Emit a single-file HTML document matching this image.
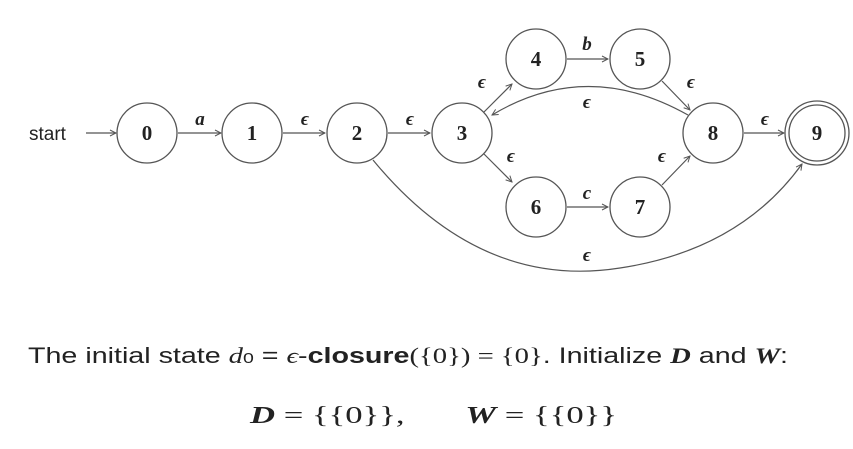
<!DOCTYPE html>
<html><head><meta charset="utf-8"><style>
html,body{margin:0;padding:0;background:#fff;width:853px;height:449px;overflow:hidden}
svg{display:block}
.n{fill:#fff;stroke:#555;stroke-width:1.3}
.e{fill:none;stroke:#555;stroke-width:1.2}
.l{font-family:"Liberation Serif",serif;font-weight:bold;font-size:21px;text-anchor:middle;fill:#222}
.t{font-family:"Liberation Serif",serif;font-weight:bold;font-style:italic;font-size:19px;text-anchor:middle;fill:#222}
</style></head><body>
<svg width="853" height="449" viewBox="0 0 853 449">
<defs><marker id="a" markerWidth="8" markerHeight="8" refX="7" refY="4" orient="auto" markerUnits="userSpaceOnUse"><path d="M1,1 L7,4 L1,7" fill="none" stroke="#555" stroke-width="1"/></marker></defs>
<text x="29" y="140" font-family="Liberation Sans,sans-serif" font-size="19" fill="#222">start</text>
<line class="e" x1="86" y1="133" x2="116" y2="133" marker-end="url(#a)"/>
<line class="e" x1="178" y1="133" x2="221" y2="133" marker-end="url(#a)"/>
<line class="e" x1="283" y1="133" x2="325" y2="133" marker-end="url(#a)"/>
<line class="e" x1="388" y1="133" x2="430" y2="133" marker-end="url(#a)"/>
<line class="e" x1="484" y1="112" x2="512" y2="84" marker-end="url(#a)"/>
<line class="e" x1="484" y1="154" x2="512" y2="182" marker-end="url(#a)"/>
<line class="e" x1="567" y1="59" x2="608" y2="59" marker-end="url(#a)"/>
<line class="e" x1="567" y1="207" x2="608" y2="207" marker-end="url(#a)"/>
<line class="e" x1="662" y1="81" x2="690" y2="110" marker-end="url(#a)"/>
<line class="e" x1="662" y1="185" x2="690" y2="156" marker-end="url(#a)"/>
<line class="e" x1="744" y1="133" x2="784" y2="133" marker-end="url(#a)"/>
<path class="e" d="M688,115 Q587,58 492,115" marker-end="url(#a)"/>
<path class="e" d="M373,160 Q480,290 620,268 Q740,250 802,164" marker-end="url(#a)"/>
<circle class="n" cx="147" cy="133" r="30"/>
<circle class="n" cx="252" cy="133" r="30"/>
<circle class="n" cx="357" cy="133" r="30"/>
<circle class="n" cx="462" cy="133" r="30"/>
<circle class="n" cx="536" cy="59" r="30"/>
<circle class="n" cx="640" cy="59" r="30"/>
<circle class="n" cx="536" cy="207" r="30"/>
<circle class="n" cx="640" cy="207" r="30"/>
<circle class="n" cx="713" cy="133" r="30"/>
<circle class="n" cx="817" cy="133" r="32"/>
<circle class="n" cx="817" cy="133" r="28"/>
<text class="l" x="147" y="140">0</text><text class="l" x="252" y="140">1</text>
<text class="l" x="357" y="140">2</text><text class="l" x="462" y="140">3</text>
<text class="l" x="536" y="66">4</text><text class="l" x="640" y="66">5</text>
<text class="l" x="536" y="214">6</text><text class="l" x="640" y="214">7</text>
<text class="l" x="713" y="140">8</text><text class="l" x="817" y="140">9</text>
<text class="t" x="200" y="125">a</text>
<text class="t" x="305" y="125">ϵ</text><text class="t" x="410" y="125">ϵ</text>
<text class="t" x="587" y="50">b</text><text class="t" x="587" y="199">c</text>
<text class="t" x="482" y="88">ϵ</text><text class="t" x="691" y="88">ϵ</text>
<text class="t" x="511" y="162">ϵ</text><text class="t" x="662" y="162">ϵ</text>
<text class="t" x="587" y="108">ϵ</text><text class="t" x="765" y="125">ϵ</text>
<text class="t" x="587" y="261">ϵ</text>
<text x="28" y="363" font-family="Liberation Sans,sans-serif" font-size="22" fill="#222" textLength="760" lengthAdjust="spacingAndGlyphs">The initial state <tspan font-family="Liberation Serif,serif" font-style="italic">d</tspan><tspan font-size="15">0</tspan> = <tspan font-family="Liberation Serif,serif" font-style="italic">ϵ</tspan>-<tspan font-weight="bold">closure</tspan><tspan font-family="Liberation Serif,serif">({0}) = {0}</tspan>. Initialize <tspan font-family="Liberation Serif,serif" font-style="italic" font-weight="bold">D</tspan> and <tspan font-family="Liberation Serif,serif" font-style="italic" font-weight="bold">W</tspan>:</text>
<text x="250" y="423" font-family="Liberation Serif,serif" font-size="24" fill="#222" textLength="367" lengthAdjust="spacingAndGlyphs" xml:space="preserve"><tspan font-style="italic" font-weight="bold">D</tspan> = {{0}},       <tspan font-style="italic" font-weight="bold">W</tspan> = {{0}}</text>
</svg>
</body></html>
